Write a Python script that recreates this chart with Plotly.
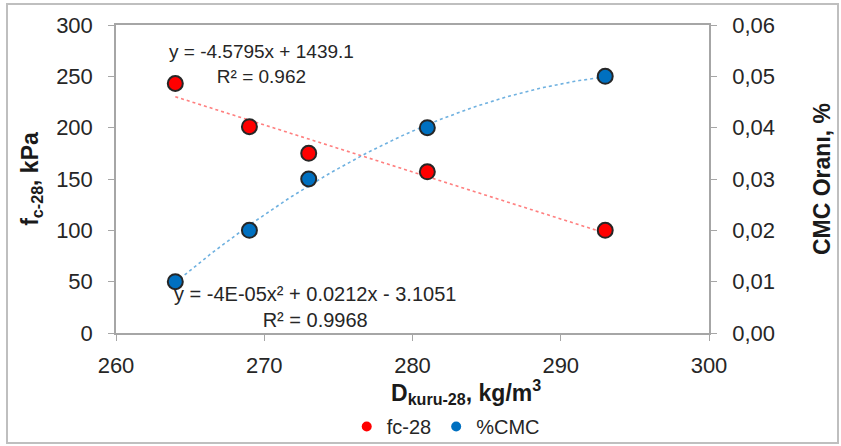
import numpy as np
import plotly.graph_objects as go

density = [264, 269, 273, 281, 293]
fc28 = [243, 201, 175, 157, 100]
cmc = [0.01, 0.02, 0.03, 0.04, 0.05]

x_ticks = [260, 270, 280, 290, 300]
y_left_ticks = [0, 50, 100, 150, 200, 250, 300]
y_right_ticks = [0, 0.01, 0.02, 0.03, 0.04, 0.05, 0.06]

eq1 = ["y = -4.5795x + 1439.1", "R² = 0.962"]
eq2 = ["y = -4E-05x² + 0.0212x - 3.1051", "R² = 0.9968"]

FONT = "Liberation Sans, Arial, sans-serif"
AX = "#A6A6A6"
TXT = "#262626"
TTL = "#1a1a1a"
RED = "#FF0000"
BLUE = "#0070C0"

xs = np.linspace(min(density), max(density), 100)
p1 = np.polyfit(density, fc28, 1)
p2 = np.polyfit(density, cmc, 2)

fig = go.Figure()
fig.add_trace(go.Scatter(x=xs, y=np.polyval(p1, xs), mode="lines",
                         line=dict(color="#FF7F7F", width=1.6, dash="3px,3px"),
                         showlegend=False, hoverinfo="skip"))
fig.add_trace(go.Scatter(x=xs, y=np.polyval(p2, xs), mode="lines", yaxis="y2",
                         line=dict(color="#6FB1E0", width=1.6, dash="3px,3px"),
                         showlegend=False, hoverinfo="skip"))
fig.add_trace(go.Scatter(x=density, y=fc28, mode="markers", name="fc-28",
                         legendgroup="fc", showlegend=False,
                         marker=dict(color=RED, size=15, line=dict(color="#262626", width=2))))
fig.add_trace(go.Scatter(x=density, y=cmc, mode="markers", name="%CMC", yaxis="y2",
                         legendgroup="cmc", showlegend=False,
                         marker=dict(color=BLUE, size=15, line=dict(color="#262626", width=2))))
# legend entries (small dots without outline, as in the reference legend)
fig.add_trace(go.Scatter(x=[None], y=[None], mode="markers", name="fc-28", legendgroup="fc",
                         marker=dict(color=RED, size=10, line=dict(width=0))))
fig.add_trace(go.Scatter(x=[None], y=[None], mode="markers", name="%CMC", legendgroup="cmc",
                         yaxis="y2", marker=dict(color=BLUE, size=10, line=dict(width=0))))

fig.update_layout(
    width=841, height=446,
    margin=dict(l=116, r=132, t=25, b=113, autoexpand=False),
    paper_bgcolor="white", plot_bgcolor="white",
    separators=",.",
    font=dict(family=FONT, color=TXT),
    showlegend=True,
    legend=dict(orientation="h", x=0.556, xanchor="center", y=-0.24, yanchor="top",
                bgcolor="rgba(0,0,0,0)",
                font=dict(size=20, color=TXT, family=FONT),
                itemwidth=30, tracegroupgap=0),
    xaxis=dict(range=[260, 300], tickvals=x_ticks, showgrid=False, zeroline=False,
               showline=True, linecolor=AX, linewidth=1.5, mirror=True, automargin=False,
               ticks="outside", tickcolor=AX, ticklen=6, ticklabelstandoff=6,
               tickfont=dict(size=22, family=FONT, color=TXT)),
    yaxis=dict(range=[0, 300], tickvals=y_left_ticks, showgrid=False, zeroline=False,
               showline=True, linecolor=AX, linewidth=1.5, automargin=False,
               ticks="outside", tickcolor=AX, ticklen=6, ticklabelstandoff=11,
               tickfont=dict(size=22, family=FONT, color=TXT),
               title=dict(text="<b>f<sub>c-28</sub>, kPa</b>",
                          font=dict(size=23, family=FONT, color=TTL), standoff=11)),
    yaxis2=dict(range=[0, 0.06], tickvals=y_right_ticks, tickformat=".2f",
                overlaying="y", side="right", showgrid=False, zeroline=False,
                showline=True, linecolor=AX, linewidth=1.5, automargin=False,
                ticks="outside", tickcolor=AX, ticklen=6, ticklabelstandoff=11,
                tickfont=dict(size=22, family=FONT, color=TXT),
                title=dict(text="<b>CMC Oranı, %</b>",
                           font=dict(size=23, family=FONT, color=TTL), standoff=40)),
)

fig.add_annotation(x=0.590, y=-0.1916, xref="paper", yref="paper",
                   text="<b>D<sub>kuru-28</sub>, kg/m<sup>3</sup></b>",
                   showarrow=False, font=dict(size=23, family=FONT, color=TTL),
                   xanchor="center", yanchor="middle")
fig.add_annotation(x=263.45, y=262.5, xref="x", yref="y", text="<br>".join(eq1),
                   showarrow=False, font=dict(size=19, color=TXT, family=FONT),
                   xanchor="left", align="center")
fig.add_annotation(x=263.75, y=0.0051, xref="x", yref="y2", text="<br>".join(eq2),
                   showarrow=False, font=dict(size=20, color=TXT, family=FONT),
                   xanchor="left", align="center")

fig.add_shape(type="rect", xref="paper", yref="paper",
              x0=-109/593, x1=(838-116)/593, y0=-(443-333)/308, y1=(333-4)/308,
              line=dict(color="#BFBFBF", width=2), fillcolor="rgba(0,0,0,0)", layer="below")

fig.write_html("out.html", config={"displayModeBar": False},
               post_script="document.body.style.margin='0';document.body.style.padding='0';")
